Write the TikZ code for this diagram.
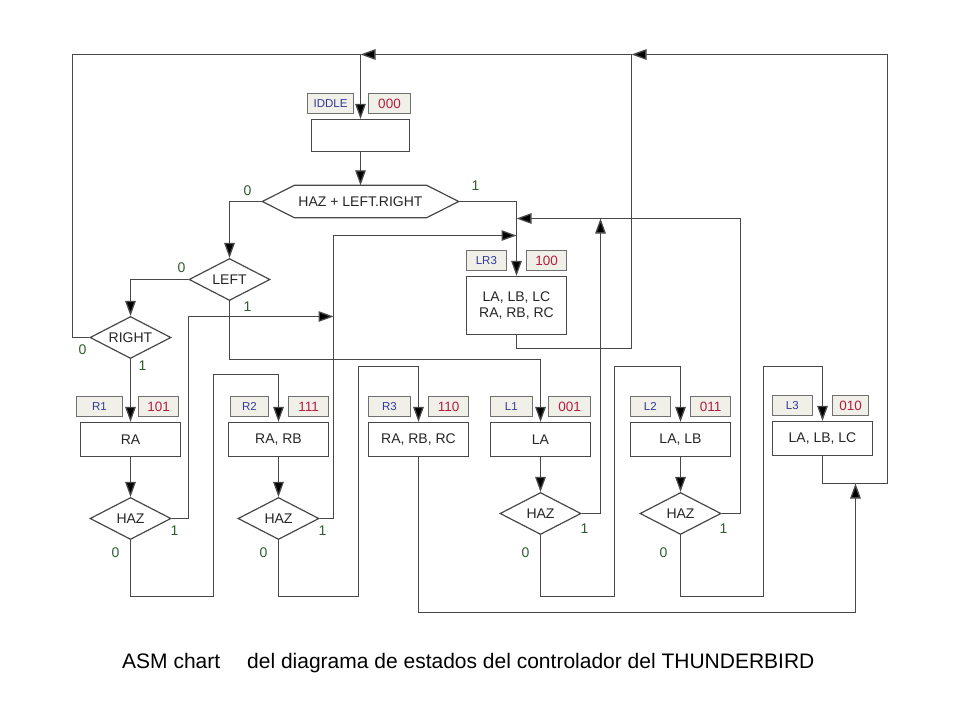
\documentclass[tikz,border=0pt]{standalone}
\usepackage{fontspec}
\setmainfont{Liberation Sans}
\usetikzlibrary{arrows.meta,shapes.geometric}
\definecolor{ln}{HTML}{484848}
\definecolor{nameblue}{HTML}{33399A}
\definecolor{codered}{HTML}{B3203F}
\definecolor{bitgreen}{HTML}{2E5E2E}
\definecolor{lblfill}{HTML}{F0F0E8}
\definecolor{lbldraw}{HTML}{707070}
\begin{document}
\begin{tikzpicture}[x=1pt,y=-1pt,
  wire/.style={draw=ln,line width=1.3pt},
  arr/.style={wire,-{Triangle[length=15pt,width=10.5pt,fill=black]}},
  mainfont/.style={font=\fontsize{14}{16}\selectfont},
  statebox/.style={draw=ln,line width=1.3pt,fill=white,minimum width=100pt,minimum height=34pt,inner sep=0pt,mainfont,text=black!85,align=center},
  dec/.style={diamond,aspect=2,draw=ln,line width=1.2pt,fill=white,minimum width=81pt,minimum height=42pt,inner sep=0pt,mainfont,text=black!85},
  namebox/.style={draw=lbldraw,fill=lblfill,line width=1pt,minimum width=42pt,minimum height=20pt,inner sep=0pt,text=nameblue,font=\fontsize{11.5}{13}\selectfont},
  codebox/.style={draw=lbldraw,fill=lblfill,line width=1pt,minimum width=40pt,minimum height=20pt,inner sep=0pt,text=codered,font=\fontsize{13.5}{15}\selectfont},
  bit/.style={text=bitgreen,mainfont,inner sep=0pt},
  caption/.style={font=\fontsize{21}{24}\selectfont,text=black,inner sep=0pt,anchor=base west}
]
\fill[white] (0,0) rectangle (960,720);
\useasboundingbox (0,0) rectangle (960,720);
\begin{scope}[shift={(0.5,0.5)}]
% ---------- IDDLE ----------
\node[statebox,minimum width=98pt,minimum height=32pt] (iddle) at (360,135) {};
\node[namebox,minimum width=46pt] (iddleN) at (330,103) {IDDLE};
\node[codebox,minimum width=42pt] (iddleC) at (389,103) {000};

% ---------- hexagon ----------
\node[minimum width=196pt,minimum height=32pt,inner sep=0pt,mainfont,text=black!85] (hex) at (360,201) {HAZ + LEFT.RIGHT};
\draw[wire,line width=1.2pt] (hex.west) -- ([xshift=32pt]hex.north west) -- ([xshift=-32pt]hex.north east) -- (hex.east) -- ([xshift=-32pt]hex.south east) -- ([xshift=32pt]hex.south west) -- cycle;

% ---------- decisions LEFT / RIGHT ----------
\node[dec] (left) at (229,279) {LEFT};
\node[dec] (right) at (130,337) {RIGHT};

% ---------- LR3 ----------
\node[statebox,minimum height=58pt] (lr3) at (516,305) {LA, LB, LC\\RA, RB, RC};
\node[namebox,minimum width=40pt,anchor=south west] (lr3N) at ([yshift=5pt]lr3.north west) {LR3};
\node[codebox,anchor=south east] (lr3C) at ([yshift=5pt]lr3.north east) {100};

% ---------- R states ----------
\node[statebox] (r1) at (130,439) {RA};
\node[namebox,minimum width=46pt,anchor=south west] (r1N) at ([xshift=-4pt,yshift=5pt]r1.north west) {R1};
\node[codebox,anchor=south east] (r1C) at ([xshift=-2pt,yshift=5pt]r1.north east) {101};
\node[dec] (haz1) at (130,518) {HAZ};

\node[statebox] (r2) at (278,439) {RA, RB};
\node[namebox,minimum width=38pt,anchor=south west] (r2N) at ([xshift=2pt,yshift=5pt]r2.north west) {R2};
\node[codebox,anchor=south east] (r2C) at ([yshift=5pt]r2.north east) {111};
\node[dec] (haz2) at (278,518) {HAZ};

\node[statebox] (r3) at (418,439) {RA, RB, RC};
\node[namebox,anchor=south west] (r3N) at ([yshift=5pt]r3.north west) {R3};
\node[codebox,anchor=south east] (r3C) at ([yshift=5pt]r3.north east) {110};

% ---------- L states ----------
\node[statebox] (l1) at (540,439) {LA};
\node[namebox,anchor=south west] (l1N) at ([yshift=5pt]l1.north west) {L1};
\node[codebox,minimum width=42pt,anchor=south east] (l1C) at ([yshift=5pt]l1.north east) {001};
\node[dec] (haz4) at (540,513) {HAZ};

\node[statebox] (l2) at (680,439) {LA, LB};
\node[namebox,minimum width=40pt,anchor=south west] (l2N) at ([yshift=5pt]l2.north west) {L2};
\node[codebox,anchor=south east] (l2C) at ([yshift=5pt]l2.north east) {011};
\node[dec] (haz5) at (680,513) {HAZ};

\node[statebox] (l3) at (822,438) {LA, LB, LC};
\node[namebox,minimum width=40pt,anchor=south west] (l3N) at ([yshift=5pt]l3.north west) {L3};
\node[codebox,minimum width=36pt,anchor=south east] (l3C) at ([xshift=-4pt,yshift=5pt]l3.north east) {010};

% ---------- helper coordinates ----------
\coordinate (topy) at (0,54);
\coordinate (jr) at (631,54);
\coordinate (yR) at (0,235);
\coordinate (yL) at (0,218);
\coordinate (j3) at (855,483);

% ---------- connectors ----------
\draw[wire] (right.west) -| (72,54) -- (iddle.north |- topy);
\draw[arr] (jr) -- (iddle.north |- topy);
\draw[arr] (iddle.north |- topy) -- (iddle.north);
\draw[arr] (iddle.south) -- (hex.north);
\draw[arr] (hex.west) -| (left.north);
\draw[arr] (hex.east) -| (lr3.north);
\draw[wire] (lr3.south) |- (631,348) -- (jr);
\draw[arr] (left.west) -| (right.north);
\draw[arr] (left.south) |- (229,359) -| (l1.north);
\draw[arr] (right.south) -- (r1.north);

\draw[arr] (r1.south) -- (haz1.north);
\draw[arr] (r2.south) -- (haz2.north);
\draw[arr] (l1.south) -- (haz4.north);
\draw[arr] (l2.south) -- (haz5.north);

\draw[arr] (haz1.east) -| (188,316) -- (333,316);
\draw[arr] (haz1.south) |- (213,596) -- (213,374) -| (r2.north);
\draw[arr] (haz2.east) -| (333,235) -- (lr3.north |- yR);
\draw[arr] (haz2.south) |- (358,596) -- (358,366) -| (r3.north);
\draw[arr] (r3.south) |- (855,612) -- (j3);

\draw[arr] (haz4.east) -| (600,218);
\draw[arr] (haz4.south) |- (614,596) -- (614,366) -| (l2.north);
\draw[arr] (haz5.east) -| (740,218) -- (lr3.north |- yL);
\draw[arr] (haz5.south) |- (763,596) -- (763,366) -| (l3.north);
\draw[arr] (l3.south) |- (887,483) -- (887,54) -- (jr);

% ---------- branch labels ----------
\node[bit] (b1) at (247,190) {0};
\node[bit] (b2) at (475,185) {1};
\node[bit] (b3) at (181,267) {0};
\node[bit] (b4) at (247,306) {1};
\node[bit] (b5) at (82,349) {0};
\node[bit] (b6) at (142,365) {1};
\node[bit] (b7) at (174,530) {1};
\node[bit] (b8) at (115,552) {0};
\node[bit] (b9) at (322,530) {1};
\node[bit] (b10) at (263,552) {0};
\node[bit] (b11) at (584,528) {1};
\node[bit] (b12) at (525,552) {0};
\node[bit] (b13) at (723,528) {1};
\node[bit] (b14) at (663,552) {0};
\end{scope}

% ---------- caption ----------
\node[caption] (cap1) at (122,668) {ASM chart};
\node[caption] (cap2) at (247,668) {del diagrama de estados del controlador del THUNDERBIRD};
\end{tikzpicture}
\end{document}
